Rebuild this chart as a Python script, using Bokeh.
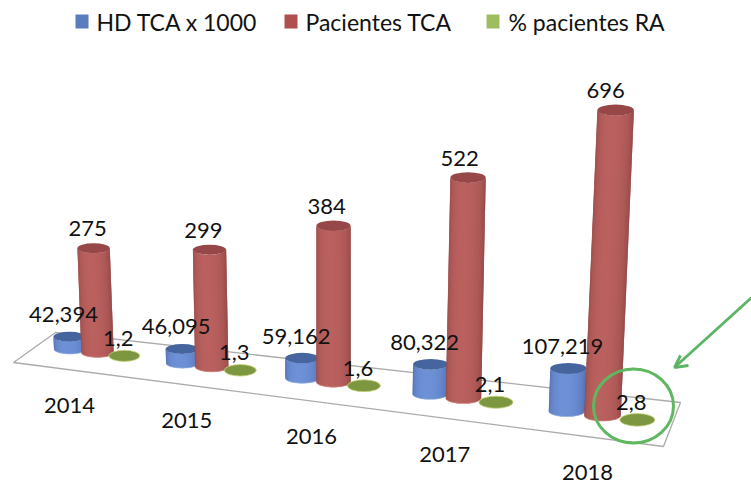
import math
from bokeh.plotting import figure
from bokeh.models import Range1d
from bokeh.core.properties import value
from bokeh.embed import file_html
from bokeh.resources import INLINE

years = ["2014", "2015", "2016", "2017", "2018"]
hd_tca = [42.394, 46.095, 59.162, 80.322, 107.219]
pacientes_tca = [275, 299, 384, 522, 696]
pct_ra = [1.2, 1.3, 1.6, 2.1, 2.8]
hd_labels = ["42,394", "46,095", "59,162", "80,322", "107,219"]
pac_labels = ["275", "299", "384", "522", "696"]
ra_labels = ["1,2", "1,3", "1,6", "2,1", "2,8"]
legend_names = ["HD TCA x 1000", "Pacientes TCA", "% pacientes RA"]

FONT = value("Lato")
AXIS_MIN = 11.0   # value axis does not start at zero in the 3D view


def floor_x(u):
    return (106.16 * u + 42.46) / (1 - 0.0302 * u)


def floor_y(x):
    return 352 + 0.1248 * (x - 97)


def unit(x):
    return 0.385 + 0.000101 * x


def project(u, val):
    bx = floor_x(u)
    by = floor_y(bx)
    s = unit(bx)
    h = s * max(val - AXIS_MIN, 0)
    tx = bx + (bx - 333) * 0.00016 * h
    return bx, by, tx, by - h, s


def mix(c0, c1, t):
    return "#%02x%02x%02x" % tuple(round(a + (b - a) * t) for a, b in zip(c0, c1))


p = figure(width=751, height=484, x_range=Range1d(0, 751), y_range=Range1d(484, 0),
           output_backend="svg", toolbar_location=None, min_border=0,
           outline_line_color=None, background_fill_color="white", border_fill_color="white")
p.xaxis.visible = False
p.yaxis.visible = False
p.grid.visible = False

# floor
p.patch([55, 680, 663, 13], [332, 402, 446, 362], fill_color="white",
        line_color="#ababab", line_width=1.3)


def cylinder(u, val, edge, mid, top, rim):
    bx, by, tx, ty, s = project(u, val)
    rx, ry = 41 * s, 12.5 * s
    N = 24
    xs, ys, cols = [], [], []
    for j in range(N):
        # each strip runs a little under the next one, so that no seams show
        a0 = math.pi * (1 - j / N)
        a1 = math.pi * (1 - min(j + 2, N) / N)
        am = (a0 + a1) / 2
        arc = [a0, am, a1]
        xs.append([bx + rx * math.cos(a) for a in arc] + [tx + rx * math.cos(a) for a in reversed(arc)])
        ys.append([by + ry * math.sin(a) for a in arc] + [ty + ry * math.sin(a) for a in reversed(arc)])
        t = (j + 0.5) / N
        cols.append(mix(edge, mid, math.sin(math.pi * t ** 0.85) ** 0.8))
    p.patches(xs=xs, ys=ys, fill_color=cols, line_color=None)
    arc = [math.pi * k / 24 for k in range(25)]
    p.line([bx + rx * math.cos(a) for a in arc], [by + ry * math.sin(a) for a in arc],
           line_color=rim, line_width=1, line_alpha=0.6)
    p.ellipse([tx], [ty], width=2 * rx, height=2 * ry, fill_color=top, line_color=None)
    return tx, ty


BLUE = ((0x46, 0x63, 0xa3), (0x6e, 0x90, 0xd6), "#46659f", "#a9c0e8")
RED = ((0x8a, 0x42, 0x40), (0xba, 0x61, 0x5f), "#974747", "#e0a09c")
GREEN = "#7d9640"

lab_x, lab_y, lab_t = [], [], []
for i in range(5):
    tx, ty = cylinder(i + 0.25, hd_tca[i], *BLUE)
    lab_x.append(tx - 6); lab_y.append(ty - 22); lab_t.append(hd_labels[i])
for i in range(5):
    tx, ty = cylinder(i + 0.5, pacientes_tca[i], *RED)
    lab_x.append(tx - 3.2 - pacientes_tca[i] * 0.0098); lab_y.append(ty - 19.5); lab_t.append(pac_labels[i])
for i in range(5):
    bx, by, tx, ty, s = project(i + 0.74, pct_ra[i])
    p.ellipse([bx], [by], width=78 * s, height=28 * s, fill_color=GREEN,
              line_color="#c4d27a", line_width=0.8)
    lab_x.append(tx - 6); lab_y.append(ty - 17.5); lab_t.append(ra_labels[i])

# category labels
cx, cy = [], []
for i in range(5):
    bx = floor_x(i + 0.5)
    cx.append(bx * 1.0257 - 30.5)
    cy.append(floor_y(bx) + 53 + 0.008 * (bx - 97))
p.text(cx, cy, text=years, text_font=FONT, text_font_size="22px", text_color="#111111",
       text_align="center", text_baseline="middle")

# data labels
p.text(lab_x, lab_y, text=lab_t, text_font=FONT, text_font_size="22px", text_color="#111111",
       text_align="center", text_baseline="middle")

# annotation: circle and arrow
p.ellipse([633], [405.5], width=80, height=74, fill_color=None,
          line_color="#5fb760", line_width=3)
p.line([760, 675], [289, 366], line_color="#5cb564", line_width=2.8)
p.line([680, 674, 688], [355, 367, 365], line_color="#5cb564", line_width=2.8)

# legend
for sx, tx0, col, name in zip([81.5, 290.5, 492.5], [96, 305, 508],
                              ["#5b7dc0", "#b0504e", "#9fbd5f"], legend_names):
    p.rect([sx], [21], width=13, height=14, fill_color=col, line_color=None)
    p.text([tx0], [21], text=[name], text_font=FONT, text_font_size="23px", text_color="#111111",
           text_align="left", text_baseline="middle")

open("out.html", "w").write(file_html(p, INLINE))
